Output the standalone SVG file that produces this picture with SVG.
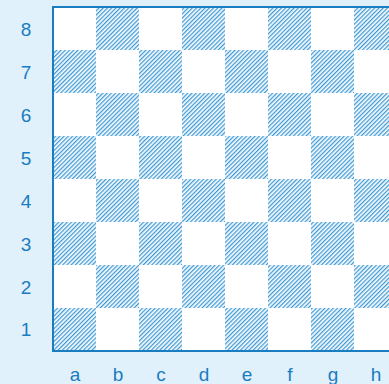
<svg xmlns="http://www.w3.org/2000/svg" width="389" height="384" viewBox="0 0 389 384">
<defs>
<pattern id="hatch" patternUnits="userSpaceOnUse" width="3" height="3" patternTransform="rotate(-45)">
<rect width="3" height="3" fill="#fff"/>
<rect x="0" y="0" width="3" height="1.3" fill="#3f9ad6"/>
</pattern>
<style>
.lbl{font-family:"Liberation Sans",Arial,sans-serif;font-size:19px;fill:#1a7cc1;text-anchor:middle}
.d{fill:url(#hatch)}
</style>
</defs>
<rect width="389" height="384" fill="#e1f1fb"/>
<g id="board">
<rect x="53" y="7" width="344" height="344" fill="#fff"/>
<g id="dark-squares">
<rect class="d" x="96" y="7" width="43" height="43"/>
<rect class="d" x="182" y="7" width="43" height="43"/>
<rect class="d" x="268" y="7" width="43" height="43"/>
<rect class="d" x="354" y="7" width="43" height="43"/>
<rect class="d" x="53" y="50" width="43" height="43"/>
<rect class="d" x="139" y="50" width="43" height="43"/>
<rect class="d" x="225" y="50" width="43" height="43"/>
<rect class="d" x="311" y="50" width="43" height="43"/>
<rect class="d" x="96" y="93" width="43" height="43"/>
<rect class="d" x="182" y="93" width="43" height="43"/>
<rect class="d" x="268" y="93" width="43" height="43"/>
<rect class="d" x="354" y="93" width="43" height="43"/>
<rect class="d" x="53" y="136" width="43" height="43"/>
<rect class="d" x="139" y="136" width="43" height="43"/>
<rect class="d" x="225" y="136" width="43" height="43"/>
<rect class="d" x="311" y="136" width="43" height="43"/>
<rect class="d" x="96" y="179" width="43" height="43"/>
<rect class="d" x="182" y="179" width="43" height="43"/>
<rect class="d" x="268" y="179" width="43" height="43"/>
<rect class="d" x="354" y="179" width="43" height="43"/>
<rect class="d" x="53" y="222" width="43" height="43"/>
<rect class="d" x="139" y="222" width="43" height="43"/>
<rect class="d" x="225" y="222" width="43" height="43"/>
<rect class="d" x="311" y="222" width="43" height="43"/>
<rect class="d" x="96" y="265" width="43" height="43"/>
<rect class="d" x="182" y="265" width="43" height="43"/>
<rect class="d" x="268" y="265" width="43" height="43"/>
<rect class="d" x="354" y="265" width="43" height="43"/>
<rect class="d" x="53" y="308" width="43" height="43"/>
<rect class="d" x="139" y="308" width="43" height="43"/>
<rect class="d" x="225" y="308" width="43" height="43"/>
<rect class="d" x="311" y="308" width="43" height="43"/>
</g>
<rect x="53" y="7" width="344" height="344" fill="none" stroke="#1a7cc1" stroke-width="2"/>
</g>
<g id="ranks">
<text class="lbl" x="26" y="36">8</text>
<text class="lbl" x="26" y="79">7</text>
<text class="lbl" x="26" y="122">6</text>
<text class="lbl" x="26" y="165">5</text>
<text class="lbl" x="26" y="208">4</text>
<text class="lbl" x="26" y="251">3</text>
<text class="lbl" x="26" y="294">2</text>
<text class="lbl" x="26" y="336">1</text>
</g>
<g id="files">
<text class="lbl" x="75" y="381">a</text>
<text class="lbl" x="118" y="381">b</text>
<text class="lbl" x="161" y="381">c</text>
<text class="lbl" x="204" y="381">d</text>
<text class="lbl" x="247" y="381">e</text>
<text class="lbl" x="290" y="381">f</text>
<text class="lbl" x="333" y="381">g</text>
<text class="lbl" x="376" y="381">h</text>
</g>
</svg>
